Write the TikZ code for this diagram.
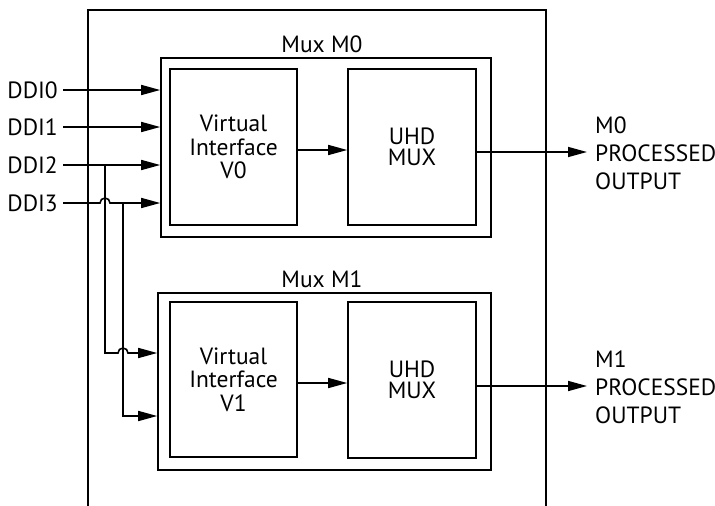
\documentclass[tikz,border=0pt]{standalone}
\usepackage{fontspec}
\setmainfont{PT Sans}
\usetikzlibrary{arrows.meta}
\begin{document}
\begin{tikzpicture}[x=1pt,y=-1pt,
  box/.style={draw, line width=1.6pt, inner sep=0pt},
  txt/.style={font=\fontsize{23.5}{23.5}\selectfont, align=center, inner sep=0pt},
  utxt/.style={font=\fontsize{23.5}{21.5}\selectfont, align=center, inner sep=0pt},
  otxt/.style={font=\fontsize{23.5}{28}\selectfont, align=left, inner sep=0pt},
  wire/.style={line width=1.6pt},
  arr/.style={-{Triangle[length=19pt,width=10pt]}, line width=1.6pt}]
\useasboundingbox (0,0) rectangle (715,506);
% outer chip outline (open at bottom)
\draw[wire] (88,506) -- (88,10) -- (546,10) -- (546,506);
% mux boxes
\node[box, minimum width=330pt, minimum height=179pt] (m0) at (326,147.5) {};
\node[box, minimum width=333pt, minimum height=177pt] (m1) at (324.5,381.5) {};
\node[txt, anchor=south] (m0l) at (322,53) {Mux M0};
\node[txt, anchor=south] (m1l) at (322,288) {Mux M1};
% inner boxes
\node[box, txt, minimum width=127pt, minimum height=156pt] (v0) at (233.5,147) {Virtual\\Interface\\V0};
\node[box, utxt, minimum width=128pt, minimum height=156pt] (u0) at (412,147) {UHD\\MUX};
\node[box, txt, minimum width=127pt, minimum height=155pt] (v1) at (233.5,379.5) {Virtual\\Interface\\V1};
\node[box, utxt, minimum width=128pt, minimum height=156pt] (u1) at (412,380) {UHD\\MUX};
% inner arrows
\draw[arr] (v0.east |- 0,150) -- (u0.west |- 0,150);
\draw[arr] (v1.east |- 0,383) -- (u1.west |- 0,383);
% inputs
\node[txt, anchor=east, inner xsep=5pt] (d0) at (63,90) {DDI0};
\node[txt, anchor=east, inner xsep=5pt] (d1) at (63,127) {DDI1};
\node[txt, anchor=east, inner xsep=5pt] (d2) at (63,165) {DDI2};
\node[txt, anchor=east, inner xsep=5pt] (d3) at (63,203) {DDI3};
\draw[arr] (d0.east) -- (d0.east -| m0.west);
\draw[arr] (d1.east) -- (d1.east -| m0.west);
\draw[arr] (d2.east) -- (d2.east -| m0.west);
\draw[arr] (d3.east) -- (100,203) arc[start angle=180, end angle=360, radius=5] -- (d3.east -| m0.west);
% branches
\coordinate (j2) at (105,165);
\coordinate (j3) at (123,203);
\draw[arr] (j2) -- (105,353) -- (118,353) arc[start angle=180, end angle=360, radius=5] -- (m1.west |- 0,353);
\draw[arr] (j3) -- (123,416) -- (m1.west |- 0,416);
% outputs
\coordinate (o0) at (587,152);
\coordinate (o1) at (587,386);
\draw[arr] (u0.east |- o0) -- (o0);
\draw[arr] (u1.east |- o1) -- (o1);
\node[otxt, anchor=west] (ol0) at (595,153) {M0\\PROCESSED\\OUTPUT};
\node[otxt, anchor=west] (ol1) at (595,387) {M1\\PROCESSED\\OUTPUT};
\end{tikzpicture}
\end{document}
